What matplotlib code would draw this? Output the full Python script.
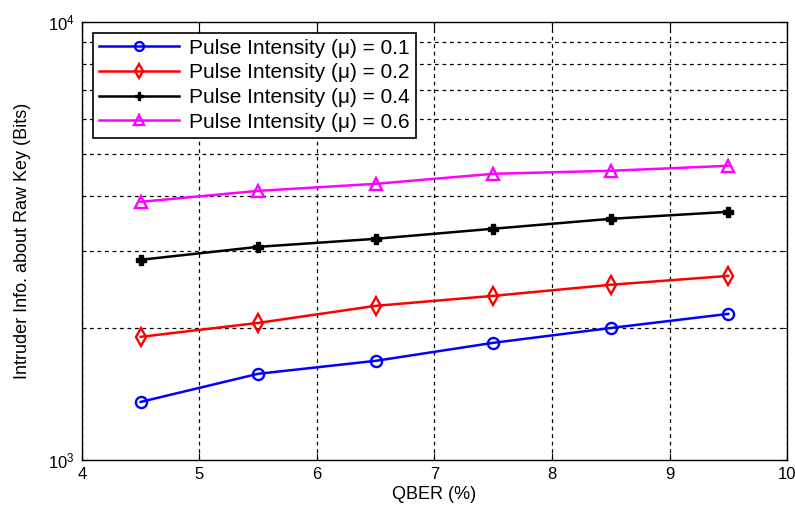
import matplotlib
matplotlib.use("Agg")
import matplotlib.pyplot as plt
from matplotlib.ticker import LogLocator, NullFormatter

plt.rcParams["font.family"] = ["Liberation Sans", "DejaVu Sans"]

qber = [4.5, 5.5, 6.5, 7.5, 8.5, 9.5]
mu01 = [1356, 1572, 1683, 1850, 2000, 2154]
mu02 = [1909, 2054, 2247, 2368, 2510, 2630]
mu04 = [2862, 3064, 3196, 3370, 3550, 3683]
mu06 = [3882, 4112, 4267, 4498, 4570, 4691]

fig = plt.figure(figsize=(7.95, 5.07), dpi=100)
ax = fig.add_axes([0.103, 0.093, 0.887, 0.864])

ax.plot(qber, mu01, "-o", color="#0000ff", lw=1.8, ms=8, mfc="none", mew=1.7,
        label="Pulse Intensity (\u03bc) = 0.1")
ax.plot(qber, mu02, "-d", color="#ff0000", lw=1.8, ms=9, mfc="none", mew=1.7,
        label="Pulse Intensity (\u03bc) = 0.2")
ax.plot(qber, mu04, "-P", color="black", lw=1.8, ms=7,
        label="Pulse Intensity (\u03bc) = 0.4")
ax.plot(qber, mu06, "-^", color="#ff00ff", lw=1.8, ms=9, mfc="none", mew=1.7,
        label="Pulse Intensity (\u03bc) = 0.6")

ax.set_yscale("log")
ax.set_xlim(4, 10)
ax.set_ylim(1e3, 1e4)
ax.yaxis.set_minor_locator(LogLocator(base=10, subs=range(2, 10)))
ax.yaxis.set_minor_formatter(NullFormatter())
ax.grid(True, which="minor", axis="y", color="black", ls=(0, (3, 3)), lw=0.9)
ax.grid(True, which="major", axis="x", color="black", ls=(0, (3, 3)), lw=0.9)
ax.tick_params(which="both", direction="in", top=True, right=True, labelsize=12)
ax.tick_params(which="major", length=5, pad=5)
ax.tick_params(which="minor", length=3)
for s in ax.spines.values():
    s.set_linewidth(1.0)

ax.set_xlabel("QBER (%)", fontsize=13, labelpad=3)
ax.set_ylabel("Intruder Info. about Raw Key (Bits)", fontsize=13, labelpad=12)

leg = ax.legend(loc="upper left", fontsize=15, fancybox=False, edgecolor="black",
                framealpha=1, bbox_to_anchor=(0.01, 0.985), borderaxespad=0.2,
                handlelength=3.8, handletextpad=0.5, labelspacing=0.27,
                borderpad=0.3, markerscale=0.8)
leg.get_frame().set_linewidth(1.2)

fig.savefig("out.png", dpi=100)
